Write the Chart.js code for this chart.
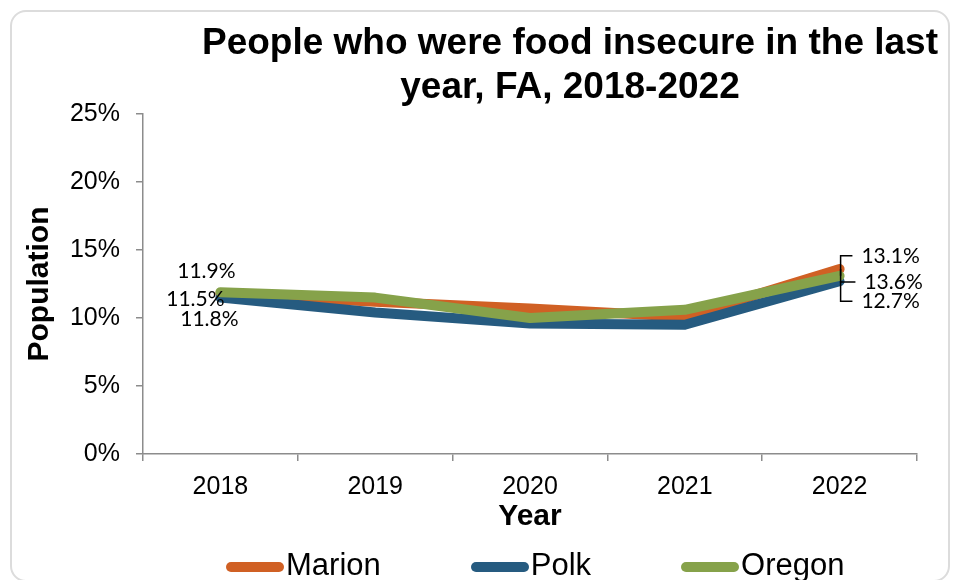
<!DOCTYPE html>
<html>
<head>
<meta charset="utf-8">
<script src="https://cdn.jsdelivr.net/npm/chart.js@4.4.1/dist/chart.umd.min.js"></script>
<style>
    html, body { margin: 0; padding: 0; background: #fff; }
    #wrap { position: relative; width: 956px; height: 580px; overflow: hidden; font-family: "Liberation Sans", Arial, sans-serif; }
    #card { position: absolute; left: 10px; top: 10px; width: 940px; height: 572px; border: 2px solid #dcdcdc; border-radius: 16px; box-sizing: border-box; }
    #title { position: absolute; left: 190px; width: 760px; top: 20px; text-align: center; font-weight: bold; font-size: 37px; line-height: 44px; color: #000; white-space: nowrap; }
    #chart { position: absolute; left: 0; top: 0; }
    #legend { position: absolute; left: 226px; top: 547px; display: flex; font-size: 31px; line-height: 36px; color: #000; white-space: nowrap; }
    #legend .item { display: flex; align-items: center; margin-right: 90px; }
    #legend .swatch { width: 58px; height: 10px; border-radius: 5px; margin-right: 2px; margin-top: 4px; }
</style>
</head>
<body>
<div id="wrap">
    <div id="card"></div>
    <canvas id="chart" width="956" height="580"></canvas>
    <div id="title">People who were food insecure in the last<br>year, FA, 2018-2022</div>
    <div id="legend"></div>
</div>
<script>
// Data (percent)
const years = ['2018', '2019', '2020', '2021', '2022'];
const marion = [11.8, 11.2, 10.7, 10.1, 13.6];
const polk = [11.5, 10.4, 9.6, 9.5, 12.7];
const oregon = [11.9, 11.5, 10.0, 10.6, 13.1];
const yTicks = [0, 5, 10, 15, 20, 25];

const seriesNames = ['Marion', 'Polk', 'Oregon'];
const seriesColors = ['#D06024', '#265B80', '#86A24A'];

// label placement (offset from the point, px) for the labelled years
const labelOffsets = {
    0: { Marion: [-11, 26], Polk: [-25, 2], Oregon: [-14, -21] },
    4: { Marion: [54, 13], Polk: [51, 20], Oregon: [51, -20] }
};

const dataLabels = {
    id: 'dataLabels',
    afterDatasetsDraw(chart) {
        const ctx = chart.ctx;
        ctx.save();
        ctx.font = '21px Lato, "Open Sans", sans-serif';
        ctx.textAlign = 'center';
        ctx.textBaseline = 'middle';
        ctx.fillStyle = '#000';
        ctx.strokeStyle = '#000';
        ctx.lineWidth = 1.5;
        chart.data.datasets.forEach((ds, di) => {
            const meta = chart.getDatasetMeta(di);
            Object.keys(labelOffsets).forEach(k => {
                const i = parseInt(k);
                const off = labelOffsets[i][ds.label];
                const pt = meta.data[i];
                const lx = pt.x + off[0];
                const ly = pt.y + off[1];
                const txt = ds.data[i].toFixed(1) + '%';
                // leader lines only on the right side
                if (off[0] > 0) {
                    const w = ctx.measureText(txt).width;
                    ctx.beginPath();
                    ctx.moveTo(pt.x + 1, pt.y);
                    ctx.lineTo(pt.x + 1, ly);
                    ctx.lineTo(lx - w / 2 - 9, ly);
                    ctx.stroke();
                }
                ctx.fillText(txt, lx, ly);
            });
        });
        ctx.restore();
    }
};

const allSeries = [marion, polk, oregon];
const datasets = allSeries.map((vals, i) => ({
    label: seriesNames[i],
    data: vals,
    borderColor: seriesColors[i],
    backgroundColor: seriesColors[i],
    borderWidth: 10,
    borderCapStyle: 'round',
    borderJoinStyle: 'round',
    pointRadius: 0,
    tension: 0,
    order: 3 - i   // Oregon on top
}));

const axisColor = '#8c8c8c';

new Chart(document.getElementById('chart'), {
    type: 'line',
    data: { labels: years, datasets: datasets },
    options: {
        responsive: false,
        animation: false,
        layout: { padding: { left: 22, right: 39, top: 114, bottom: 40 } },
        plugins: {
            legend: { display: false },
            title: { display: false },
            tooltip: { enabled: false }
        },
        scales: {
            x: {
                type: 'category',
                offset: true,
                afterFit: s => { s.height = 86; },
                grid: { display: true, offset: true, drawOnChartArea: false, drawTicks: true, tickLength: 7, color: axisColor, lineWidth: 1.5 },
                border: { display: true, color: axisColor, width: 1.5 },
                ticks: { color: '#000', padding: 11, font: { family: '"Liberation Sans", Arial', size: 25 } },
                title: { display: true, text: 'Year', color: '#000', padding: { top: 0, bottom: 5 }, font: { family: '"Liberation Sans", Arial', size: 30, weight: 'bold' } }
            },
            y: {
                min: 0,
                max: 25,
                afterFit: s => { s.width = 121; },
                afterBuildTicks: s => { s.ticks = yTicks.map(v => ({ value: v })); },
                grid: { display: true, drawOnChartArea: false, drawTicks: true, tickLength: 7, color: axisColor, lineWidth: 1.5 },
                border: { display: true, color: axisColor, width: 1.5 },
                ticks: { color: '#000', padding: 16, font: { family: '"Liberation Sans", Arial', size: 25 }, callback: v => v + '%' },
                title: { display: true, text: 'Population', color: '#000', padding: { top: 0, bottom: 12 }, font: { family: '"Liberation Sans", Arial', size: 30, weight: 'bold' } }
            }
        }
    },
    plugins: [dataLabels]
});

// legend as html, same look as the reference
const legend = document.getElementById('legend');
seriesNames.forEach((name, i) => {
    const item = document.createElement('div');
    item.className = 'item';
    item.innerHTML = `<span class="swatch" style="background:${seriesColors[i]}"></span><span>${name}</span>`;
    legend.appendChild(item);
});
</script>
</body>
</html>
